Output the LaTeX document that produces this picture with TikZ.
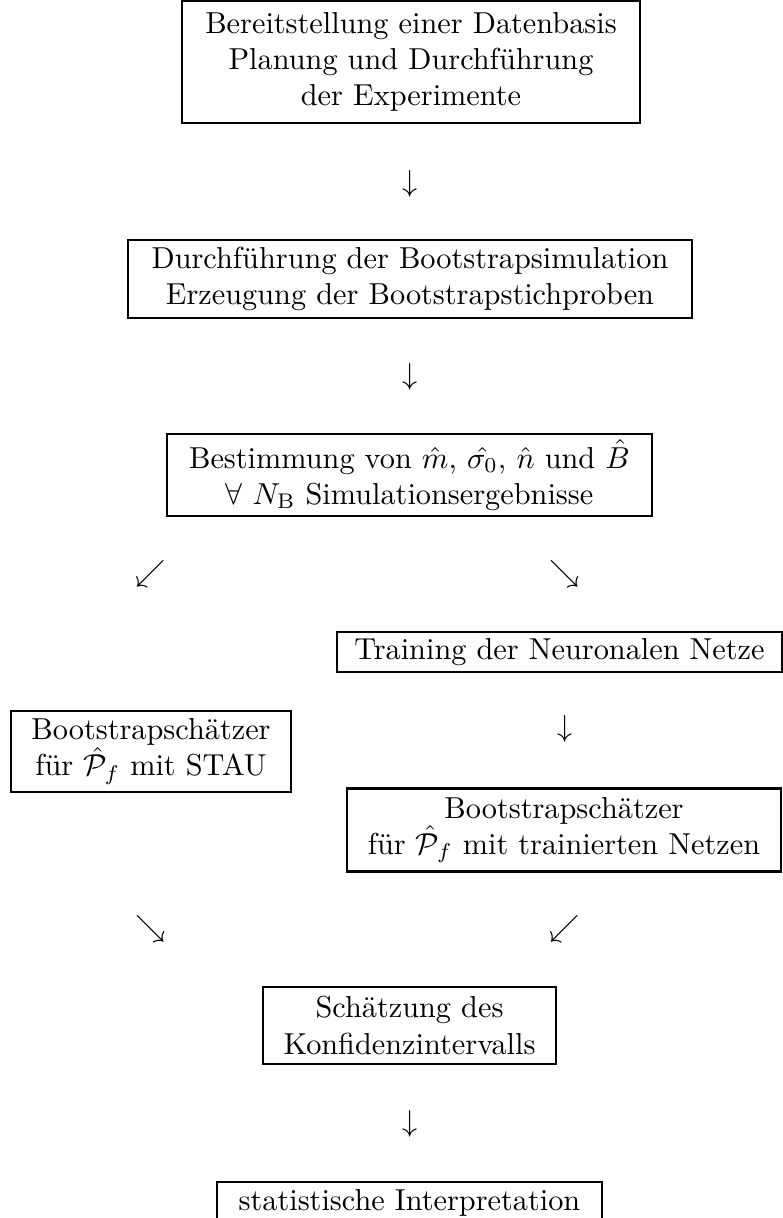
\documentclass[tikz,border=0pt]{standalone}
\begin{document}
\begin{tikzpicture}[x=0.33pt,y=-0.33pt,
  stepbox/.style={draw,line width=0.7pt,inner sep=0pt,align=center,font=\normalsize},
  glyph/.style={inner sep=0pt,font=\normalsize}]
\useasboundingbox (0,0) rectangle (782,1218);
\node[stepbox,minimum width=151.1pt,minimum height=40pt] (b1) at (411,62)
  {Bereitstellung einer Datenbasis\\Planung und Durchführung\\der Experimente};
\node[glyph] (a1) at (410,184) {$\downarrow$};
\node[stepbox,minimum width=186.1pt,minimum height=25.7pt] (b2) at (410,279)
  {Durchführung der Bootstrapsimulation\\Erzeugung der Bootstrapstichproben};
\node[glyph] (a2) at (410,377) {$\downarrow$};
\node[stepbox,minimum width=160pt,minimum height=27.1pt] (b3) at (409.5,475)
  {Bestimmung von $\hat{m}$, $\hat{\sigma_0}$, $\hat{n}$ und $\hat{B}$\\$\forall$ $N_{\mathrm{B}}$ Simulationsergebnisse};
\node[glyph] (a3) at (151,574) {$\swarrow$};
\node[glyph] (a4) at (565,574) {$\searrow$};
\node[stepbox,minimum width=146.8pt,minimum height=13.4pt] (b4) at (559.5,652)
  {Training der Neuronalen Netze};
\node[stepbox,minimum width=92.4pt,minimum height=26.7pt] (b5) at (151,751.5)
  {Bootstrapschätzer\\für $\hat{\mathcal{P}}_f$ mit STAU};
\node[glyph] (a5) at (565,729) {$\downarrow$};
\node[stepbox,minimum width=143.2pt,minimum height=27.4pt] (b6) at (564,830)
  {Bootstrapschätzer\\für $\hat{\mathcal{P}}_f$ mit trainierten Netzen};
\node[glyph] (a6) at (151,929) {$\searrow$};
\node[glyph] (a7) at (565,929) {$\swarrow$};
\node[stepbox,minimum width=96.7pt,minimum height=25.6pt] (b7) at (409.5,1025.5)
  {Schätzung des\\Konfidenzintervalls};
\node[glyph] (a8) at (410,1124) {$\downarrow$};
\node[stepbox,minimum width=127pt,minimum height=13.4pt] (b8) at (409.5,1202.5)
  {statistische Interpretation};
\end{tikzpicture}
\end{document}
